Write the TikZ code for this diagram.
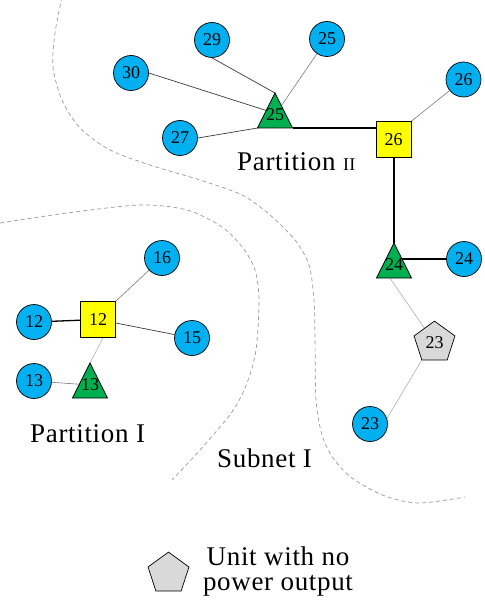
\documentclass[tikz,border=0pt]{standalone}
\usepackage{fontspec}
\setmainfont{Liberation Serif}
\newfontfamily\lblfont[LetterSpace=2.5]{Liberation Serif}
\usetikzlibrary{shapes.geometric,calc}
\pgfdeclarelayer{bg}
\pgfsetlayers{bg,main}
\definecolor{cyanb}{HTML}{00B0F0}
\definecolor{greent}{HTML}{00B050}
\definecolor{yelsq}{HTML}{FFFF00}
\definecolor{grayp}{HTML}{D9D9D9}
\definecolor{dashc}{HTML}{9A9A9A}
\definecolor{lnA}{HTML}{3A3A3A}
\definecolor{lnB}{HTML}{7A7A7A}
\definecolor{lnC}{HTML}{B0B0B0}
\begin{document}
\begin{tikzpicture}[x=1pt,y=-1pt,
  numfont/.style={font=\fontsize{18}{18}\selectfont},
  bus/.style={circle,draw=black,line width=0.7pt,fill=cyanb,minimum size=35pt,inner sep=0pt,numfont},
  sqbox/.style={rectangle,draw=black,line width=0.8pt,fill=yelsq,minimum width=35pt,minimum height=36pt,inner sep=0pt,numfont},
  pentbox/.style={regular polygon,regular polygon sides=5,draw=black,line width=0.7pt,fill=grayp,minimum size=43pt,inner sep=0pt,numfont},
  trishape/.style={draw=black,line width=0.7pt,fill=greent},
  trilbl/.style={inner sep=0pt,numfont},
  lbl/.style={font=\lblfont\fontsize{27}{25}\selectfont,inner sep=0pt,anchor=base west},
  boundary/.style={draw=dashc,line width=0.7pt,dash pattern=on 4pt off 3pt},
  strong/.style={draw=black,line width=1.3pt},
  linkA/.style={draw=lnA,line width=0.7pt},
  linkB/.style={draw=lnB,line width=0.6pt},
  linkC/.style={draw=lnC,line width=0.6pt}]
\useasboundingbox (0,0) rectangle (484,604);

% partition boundaries
\draw[boundary] plot[smooth] coordinates {(62,-3) (55,33) (53,67) (62,100) (80,128) (110,150) (150,165) (200,180) (242,195) (270,215) (295,240) (309,265) (314,300) (315,340) (316,400) (322,435) (333,458) (352,478) (385,496) (419,503) (465,497)};
\draw[boundary] plot[smooth] coordinates {(0,223) (67,213) (140,205) (187,210) (222,227) (243,248) (255,270) (259,300) (256,350) (247,383) (232,412) (200,450) (172,480)};

% nodes
\node[bus] (c29) at (212,40) {29};
\node[bus] (c25) at (327,39) {25};
\node[bus] (c30) at (131,73) {30};
\node[bus] (c26) at (463.5,79.5) {26};
\node[bus] (c27) at (180,138) {27};
\node[sqbox] (s26) at (393.5,139.5) {26};
\node[bus] (c24) at (464,259) {24};
\node[pentbox] (p23) at (434.5,342.6) {23};
\node[bus] (c23) at (370,424) {23};
\node[bus] (c16) at (162,258) {16};
\node[sqbox] (s12) at (98,319.5) {12};
\node[bus] (c12) at (34,322) {12};
\node[bus] (c15) at (192,338) {15};
\node[bus] (c13) at (34,381) {13};

% triangles (generator buses)
\path[trishape] (275,116.3) ++(0,-23.3) coordinate (t25a) -- ++(17.5,35) coordinate (t25r) -- ++(-35,0) coordinate (t25l) -- cycle;
\node[trilbl] (t25) at (275,115) {25};
\path[trishape] (394,266.3) ++(0,-23.3) coordinate (t24a) -- ++(17.5,35) coordinate (t24r) -- ++(-35,0) coordinate (t24l) -- cycle;
\node[trilbl] (t24) at (394,265) {24};
\path[trishape] (90,386.3) ++(0,-23.3) coordinate (t13a) -- ++(17.5,35) coordinate (t13r) -- ++(-35,0) coordinate (t13l) -- cycle;
\node[trilbl] (t13) at (90,385) {13};

% labels
\node[lbl] (partII) at (237,170) {Partition {\fontsize{18}{18}\selectfont II}};
\node[lbl] (partI) at (30,442) {Partition I};
\node[lbl] (subnet) at (217,467) {Subnet I};

% legend
\node[pentbox] (legp) at (168.5,573.6) {};
\node[lbl,anchor=center,align=center] (leg) at (278,571) {Unit with no\\power output};

% connectors
\begin{pgfonlayer}{bg}
\draw[strong] (t25r) -- (t25r -| s26.west);
\draw[strong] (t24a) -- (t24a |- s26.south);
\draw[strong] (c24) -- (c24 -| t24);
\draw[strong] (c12) -- (s12);
\draw[linkA] (c29.south) -- (t25a);
\draw[linkA] (c30.east) -- ($(t25a)!0.5!(t25l)$);
\draw[linkA] (c27.east) -- (t25l);
\draw[linkB] (c25) -- (t25);
\draw[linkB] (c26) -- (s26.north east);
\draw[linkB] (c16) -- (s12.north east);
\draw[linkA] (c15) -- (s12);
\draw[linkC] ($(s12.south west)!0.64!(s12.south east)$) -- (t13a);
\draw[linkB] (c13) -- (t13);
\draw[linkC] ($(t24l)!0.38!(t24r)$) -- (p23);
\draw[linkC] (p23.corner 3) -- (c23.18);
\end{pgfonlayer}
\end{tikzpicture}
\end{document}
